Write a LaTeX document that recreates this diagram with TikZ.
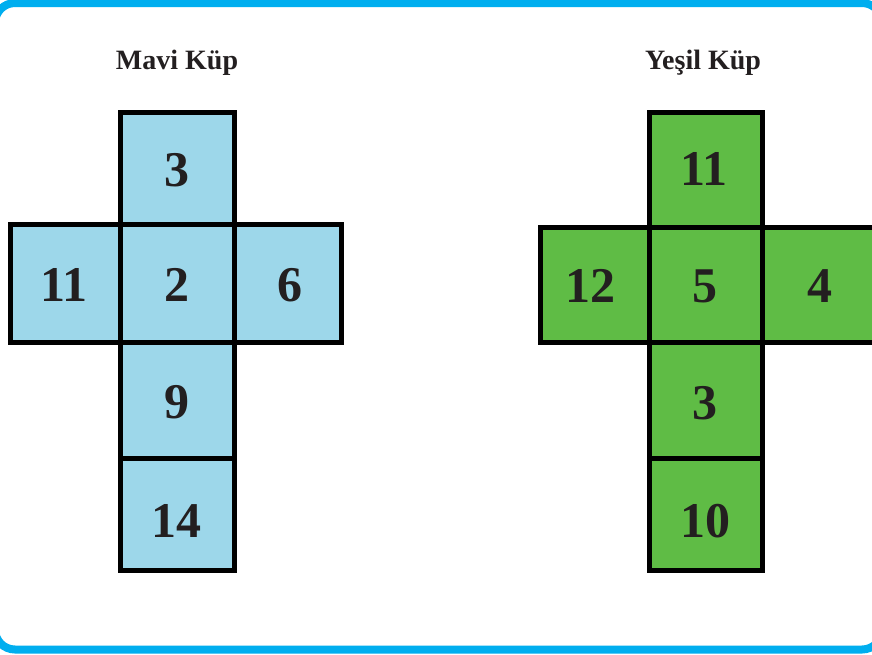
\documentclass[tikz,border=0pt]{standalone}
\usepackage{fontspec}
\setmainfont{Liberation Serif}
\definecolor{framecol}{HTML}{00AEEF}
\definecolor{bluefill}{HTML}{9DD7EA}
\definecolor{greenfill}{HTML}{5FBC45}
\definecolor{ink}{HTML}{231F20}
\begin{document}
\begin{tikzpicture}[x=1pt,y=-1pt,
  num/.style={font=\fontsize{50}{50}\selectfont\bfseries, text=ink, inner sep=0pt},
  ttl/.style={font=\fontsize{28}{28}\selectfont\bfseries, text=ink, inner sep=0pt, anchor=base},
  cellb/.style={fill=bluefill, draw=black, line width=5pt},
  cellg/.style={fill=greenfill, draw=black, line width=5pt},
  frame/.style={draw=framecol, line width=8pt, rounded corners=20pt}]
\useasboundingbox (0,0) rectangle (872,654);
\begin{scope}
\clip (0,0) rectangle (872,654);
\fill[white] (0,0) rectangle (872,654);
\draw[frame] (-5,3) rectangle (882,649.5);
% Blue cube
\path[cellb] (120,112.5) rectangle (234,224);
\path[cellb] (10,224) rectangle (120,342);
\path[cellb] (234,224) rectangle (341,342);
\path[cellb] (120,224) rectangle (234,342);
\path[cellb] (120,342) rectangle (234,458);
\path[cellb] (120,458) rectangle (234,570.5);
% Green cube
\path[cellg] (649,112.5) rectangle (762,227);
\path[cellg] (540,227) rectangle (649,342);
\path[cellg] (762,227) rectangle (880,342);
\path[cellg] (649,227) rectangle (762,342);
\path[cellg] (649,342) rectangle (762,458);
\path[cellg] (649,458) rectangle (762,570.5);
\end{scope}
\node[ttl] (tb) at (177,69) {Mavi Küp};
\node[ttl] (tg) at (703,69) {Yeşil Küp};
\node[num] (b3) at (177,170) {3};
\node[num] (b11) at (64,285) {11};
\node[num] (b2) at (177,285) {2};
\node[num] (b6) at (290,285) {6};
\node[num] (b9) at (177,402) {9};
\node[num] (b14) at (176,521) {14};
\node[num] (g11) at (704,169) {11};
\node[num] (g12) at (590,286) {12};
\node[num] (g5) at (705,286) {5};
\node[num] (g4) at (820,286) {4};
\node[num] (g3) at (705,403) {3};
\node[num] (g10) at (705,521) {10};
\end{tikzpicture}
\end{document}
